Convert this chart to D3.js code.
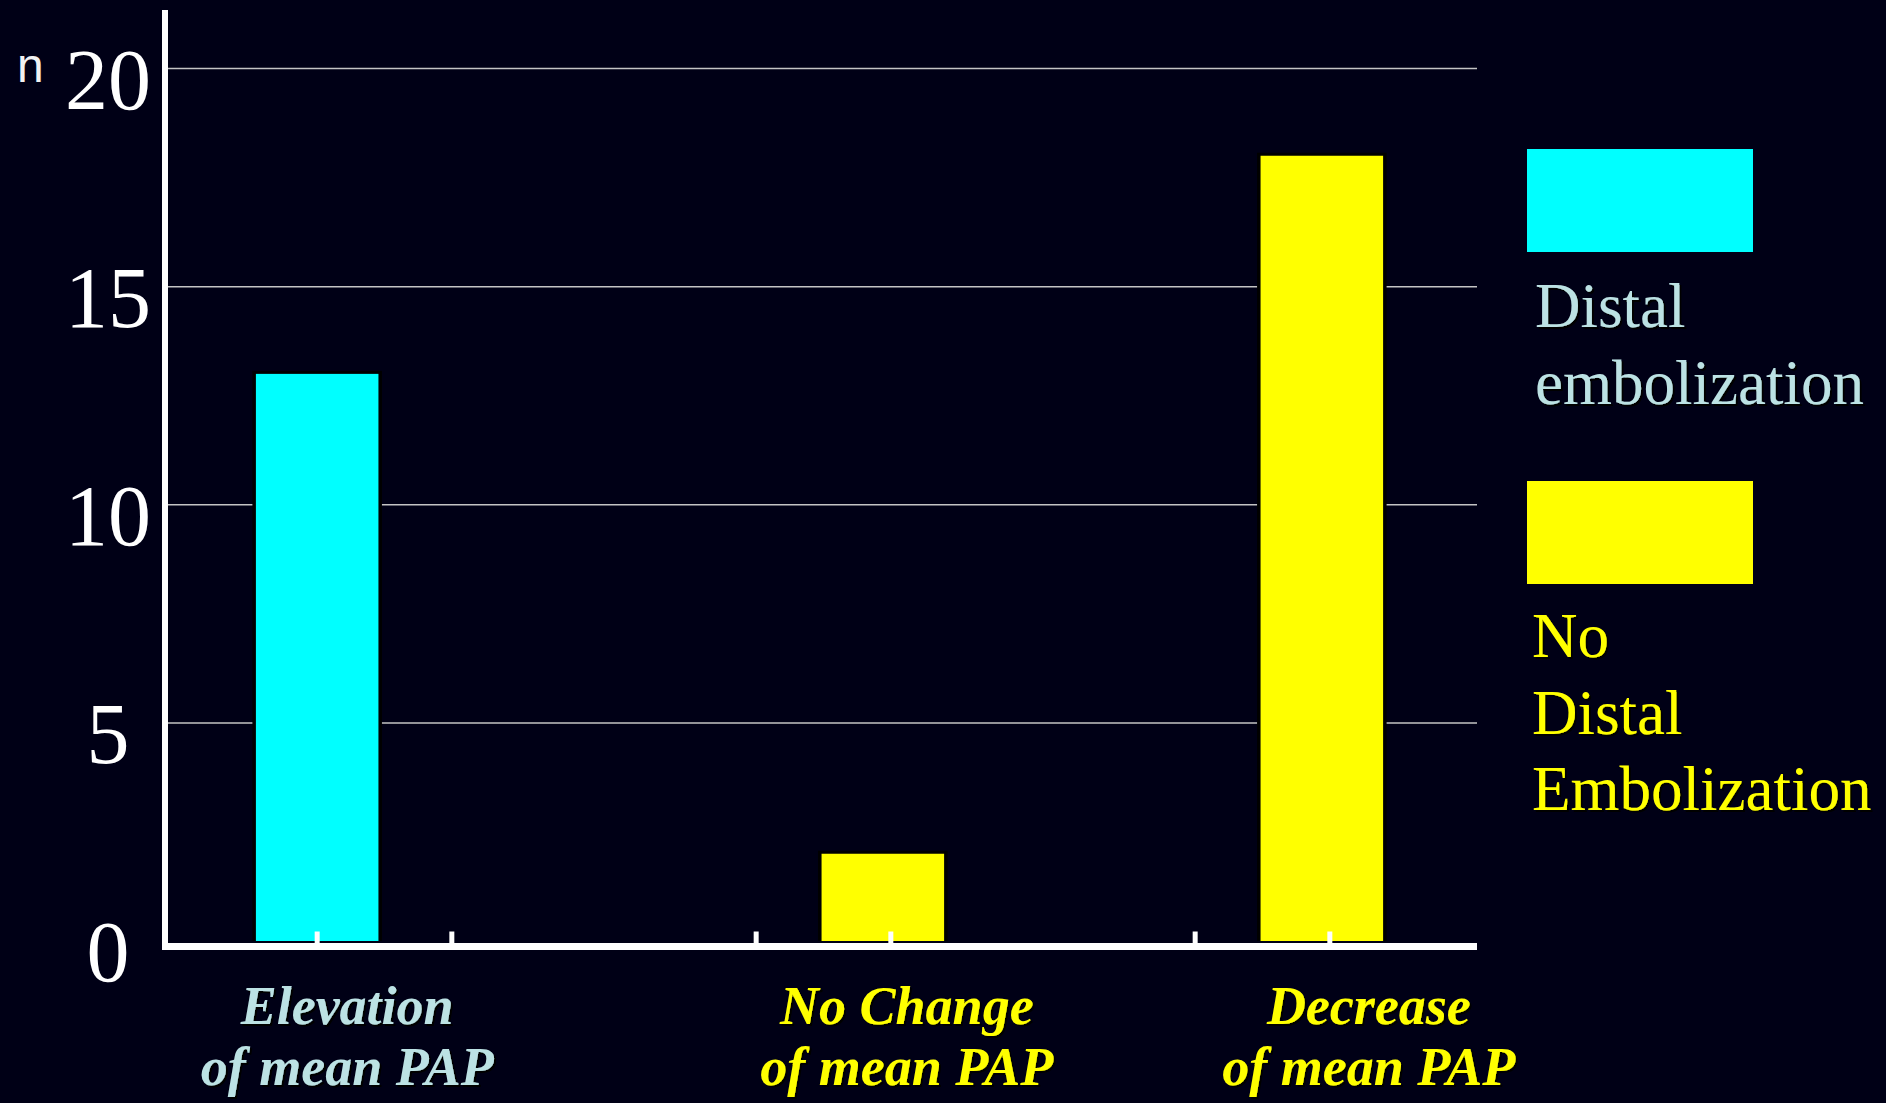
<!DOCTYPE html>
<html>
<head>
<meta charset="utf-8">
<script src="https://cdn.jsdelivr.net/npm/d3@7"></script>
<style>
  html, body { margin: 0; padding: 0; background: #000016; }
  svg { display: block; }
</style>
</head>
<body>
<svg id="chart" width="1886" height="1103"></svg>
<script>
// Patients per change in mean PAP, split by distal embolization
const categories = ["Elevation", "No Change", "Decrease"];
const categorySubLines = ["of mean PAP", "of mean PAP", "of mean PAP"];
const seriesNames = ["Distal embolization", "No Distal Embolization"];
const distalValues = [13, 0, 0];
const noDistalValues = [0, 2, 18];
const yTickValues = [0, 5, 10, 15, 20];
const legendLines = [["Distal", "embolization"], ["No", "Distal", "Embolization"]];

const W = 1886, H = 1103;
const bg = "#000016";
const seriesColors = ["#00FFFF", "#FFFF00"];
const labelColors = ["#BCE2E4", "#FFFF00", "#FFFF00"];
const legendTextColors = ["#BCE2E4", "#FFFF00"];

const svg = d3.select("#chart");
svg.append("rect").attr("width", W).attr("height", H).attr("fill", bg);

const defs = svg.append("defs");
defs.append("filter").attr("id", "shadow")
  .attr("x", "-5%").attr("y", "-5%").attr("width", "115%").attr("height", "130%")
  .append("feDropShadow")
  .attr("dx", 2).attr("dy", 2).attr("stdDeviation", 0.6)
  .attr("flood-color", "#000").attr("flood-opacity", 1);

// Scales
const plotLeft = 165, plotRight = 1477;
const x0 = d3.scaleBand().domain(categories).range([plotLeft, 1482]).padding(0);
const x1 = d3.scalePoint().domain(seriesNames).range([0, x0.bandwidth()]).padding(1.13);
const y = d3.scaleLinear().domain([0, 20]).range([941, 68.5]);
const barW = x1.step() * 0.91;
const barShift = [0, -8]; // second series sits a little left of its tick

const valuesBySeries = [distalValues, noDistalValues];
const bars = [];
categories.forEach((c, i) => {
  seriesNames.forEach((s, j) => {
    bars.push({ cat: c, series: s, si: j, value: valuesBySeries[j][i] });
  });
});
const barX = d => x0(d.cat) + x1(d.series) + barShift[d.si] - barW / 2;

// Horizontal gridlines (above zero)
svg.append("g").selectAll("line")
  .data(yTickValues.filter(v => v > 0))
  .join("line")
  .attr("x1", plotLeft + 3).attr("x2", plotRight)
  .attr("y1", d => y(d)).attr("y2", d => y(d))
  .attr("stroke", "#c4c4c4").attr("stroke-width", 1.5);

// Bars with a dark outline that knocks out the gridlines
const barG = svg.append("g");
const drawn = bars.filter(d => d.value > 0);
barG.selectAll("rect.outline")
  .data(drawn)
  .join("rect")
  .attr("class", "outline")
  .attr("x", d => barX(d) - 3.5)
  .attr("y", d => y(d.value) - 3)
  .attr("width", barW + 7)
  .attr("height", d => y(0) - y(d.value) + 3)
  .attr("fill", "#000");
barG.selectAll("rect.bar")
  .data(drawn)
  .join("rect")
  .attr("class", "bar")
  .attr("x", d => barX(d))
  .attr("y", d => y(d.value))
  .attr("width", barW)
  .attr("height", d => y(0) - y(d.value))
  .attr("fill", d => seriesColors[d.si]);

// Axis lines
const axisY = 946.5;
svg.append("line")
  .attr("x1", plotLeft).attr("x2", plotLeft)
  .attr("y1", 10).attr("y2", axisY + 3.5)
  .attr("stroke", "#fff").attr("stroke-width", 6);
svg.append("line")
  .attr("x1", plotLeft - 3).attr("x2", plotRight)
  .attr("y1", axisY).attr("y2", axisY)
  .attr("stroke", "#fff").attr("stroke-width", 7);

// Inward tick marks at each series slot
svg.append("g").selectAll("line")
  .data(bars)
  .join("line")
  .attr("x1", d => x0(d.cat) + x1(d.series))
  .attr("x2", d => x0(d.cat) + x1(d.series))
  .attr("y1", axisY).attr("y2", axisY - 15)
  .attr("stroke", "#fff").attr("stroke-width", 5);

// Y tick labels
svg.append("g").selectAll("text")
  .data(yTickValues)
  .join("text")
  .attr("x", 108)
  .attr("y", d => y(d) + 40)
  .attr("text-anchor", "middle")
  .attr("font-family", "'Liberation Serif', 'Times New Roman', serif")
  .attr("font-size", 86)
  .attr("fill", "#fff")
  .text(d => d);

// Axis unit
svg.append("text")
  .attr("x", 17).attr("y", 82)
  .attr("font-family", "'Liberation Sans', Arial, sans-serif")
  .attr("font-size", 48)
  .attr("fill", "#f2f2f2")
  .text("n");

// Category labels, placed under the bar each category holds
const labelNudge = [30, 16, 39];
const catLabels = svg.append("g")
  .attr("font-family", "'Liberation Serif', 'Times New Roman', serif")
  .attr("font-style", "italic")
  .attr("font-weight", "bold")
  .attr("font-size", 54)
  .attr("text-anchor", "middle")
  .attr("filter", "url(#shadow)");
categories.forEach((c, i) => {
  const si = distalValues[i] > 0 ? 0 : 1;
  const cx = x0(c) + x1(seriesNames[si]) + labelNudge[i];
  const t = catLabels.append("text").attr("fill", labelColors[i]);
  t.append("tspan").attr("x", cx).attr("y", 1024).text(c);
  t.append("tspan").attr("x", cx).attr("y", 1085).text(categorySubLines[i]);
});

// Legend
const legendTop = [149, 481];
const legend = svg.append("g");
seriesNames.forEach((s, i) => {
  legend.append("rect")
    .attr("x", 1527).attr("y", legendTop[i])
    .attr("width", 226).attr("height", 103)
    .attr("fill", seriesColors[i]);
  const t = legend.append("text")
    .attr("font-family", "'Liberation Serif', 'Times New Roman', serif")
    .attr("font-size", 63)
    .attr("fill", legendTextColors[i])
    .attr("filter", "url(#shadow)");
  legendLines[i].forEach((line, k) => {
    t.append("tspan")
      .attr("x", i === 0 ? 1535 : 1532)
      .attr("y", legendTop[i] + (i === 0 ? 178 : 176) + k * 76.5)
      .text(line);
  });
});
</script>
</body>
</html>
